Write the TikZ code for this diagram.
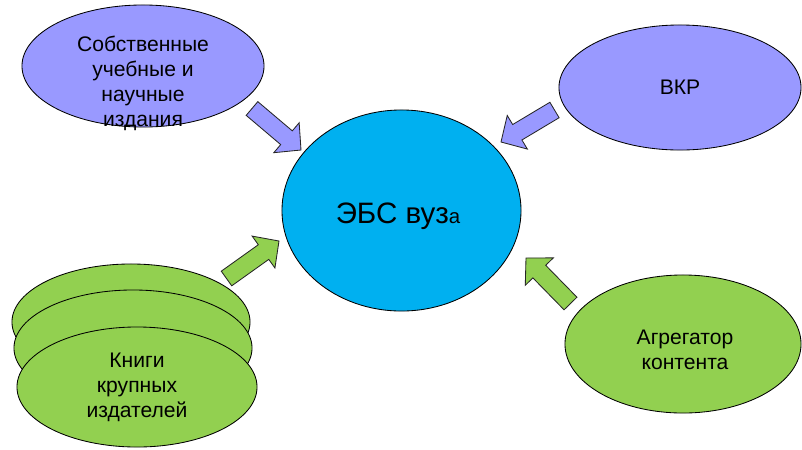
\documentclass[tikz,border=0pt]{standalone}
\usepackage{fontspec}
\setmainfont{Liberation Sans}
\usetikzlibrary{shapes.geometric,calc}

\definecolor{lavender}{HTML}{9999FF}
\definecolor{vuzblue}{HTML}{00B0F0}
\definecolor{leaf}{HTML}{92D050}

\tikzset{
  source/.style={ellipse, draw=black, line width=0.6pt, align=center,
    font=\fontsize{15}{17.8}\selectfont},
  srctext/.style={align=center, font=\fontsize{15}{17.8}\selectfont},
  blockarrow/.style={draw=black!85, line width=0.6pt, line join=miter,
    to path={
      ($(\tikztostart)!0.225cm!90:(\tikztotarget)$)
      -- ($(\tikztotarget)!0.475cm!(\tikztostart)!0.225cm!90:(\tikztotarget)$)
      -- ($(\tikztotarget)!0.475cm!(\tikztostart)!0.49cm!90:(\tikztotarget)$)
      -- (\tikztotarget)
      -- ($(\tikztotarget)!0.475cm!(\tikztostart)!0.49cm!-90:(\tikztotarget)$)
      -- ($(\tikztotarget)!0.475cm!(\tikztostart)!0.225cm!-90:(\tikztotarget)$)
      -- ($(\tikztostart)!0.225cm!-90:(\tikztotarget)$)
      -- cycle}}
}

\begin{document}
\begin{tikzpicture}[x=0.025cm, y=0.025cm]
\tikzstyle{every node}+=[inner sep=0pt]
\useasboundingbox (0,0) rectangle (802,-449);
% sources, top
\node [source, fill=lavender, minimum width=6.05cm, minimum height=3.05cm] (sobst) at (143,-66) {};
\node [srctext] (sobsttext) at (143,-83) {Собственные\\учебные и\\научные\\издания};
\node [source, fill=lavender, minimum width=6.05cm, minimum height=3.125cm] (vkr) at (680,-87.5) {ВКР};
% sources, bottom
\node [source, fill=leaf, minimum width=5.95cm, minimum height=2.9cm] (knigi1) at (131,-322) {};
\node [source, fill=leaf, minimum width=5.95cm, minimum height=2.9cm] (knigi2) at (133,-348) {};
\node [source, fill=leaf, minimum width=6cm, minimum height=3cm] (knigi) at (137,-387) {Книги\\крупных\\издателей};
\node [source, fill=leaf, minimum width=5.9cm, minimum height=3.45cm] (agr) at (683,-344) {};
\node [srctext] (agrtext) at (685,-350) {Агрегатор\\контента};
% centre
\node [source, fill=vuzblue, minimum width=5.975cm, minimum height=5.025cm] (vuz) at (401.5,-210.5) {};
\node [srctext, font=\fontsize{21}{24}\selectfont] (vuztext) at (398,-216) {ЭБС вуз{\fontsize{14.5}{17}\selectfont а}};
% arrows
\coordinate (sobstout) at (252,-108.5);
\coordinate (vuzin1) at (301,-150);
\coordinate (vkrout) at (554.5,-110);
\coordinate (vuzin2) at (501,-142);
\coordinate (knigiout) at (226.5,-278.5);
\coordinate (vuzin3) at (279,-241);
\coordinate (agrout) at (570.5,-303.5);
\coordinate (vuzin4) at (526,-258);
\draw [blockarrow, fill=lavender] (sobstout) to (vuzin1);
\draw [blockarrow, fill=lavender] (vkrout) to (vuzin2);
\draw [blockarrow, fill=leaf] (knigiout) to (vuzin3);
\draw [blockarrow, fill=leaf] (agrout) to (vuzin4);
\end{tikzpicture}
\end{document}
